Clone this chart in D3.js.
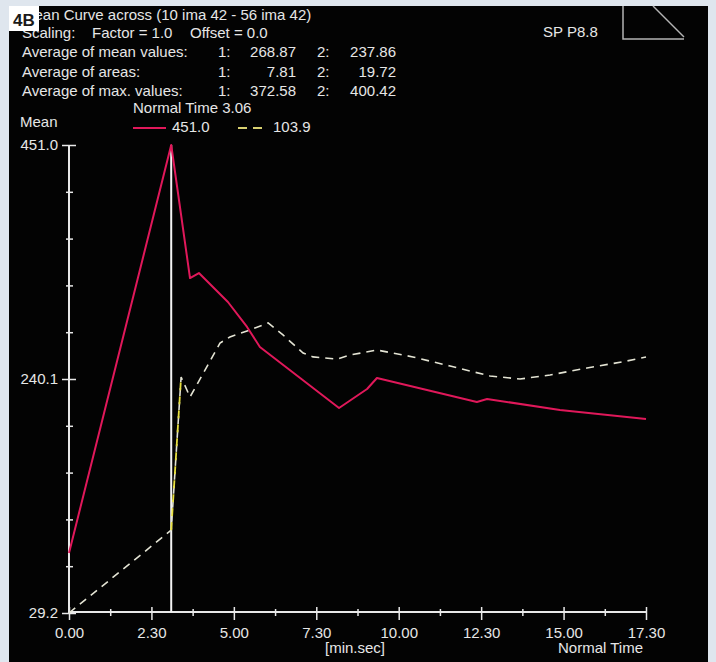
<!DOCTYPE html>
<html><head><meta charset="utf-8">
<script src="https://cdn.jsdelivr.net/npm/d3@7"></script>
<style>
html,body{margin:0;padding:0;background:#dfe6ee;}
svg{display:block;}
text{font-family:"Liberation Sans",Arial,sans-serif;white-space:pre;}
</style></head>
<body>
<script>
// ---- data ----
const xTickValues = [0, 2.5, 5, 7.5, 10, 12.5, 15, 17.5];
const xTickLabels = ["0.00", "2.30", "5.00", "7.30", "10.00", "12.30", "15.00", "17.30"];
const xMinorTicks = [1.25, 3.75, 6.25, 8.75, 11.25, 13.75, 16.25];
const yMin = 29.2, yMax = 451.0;
const yTickLabels = ["29.2", "240.1", "451.0"];
const normalTime = 3.1;
const normalTimeLabel = "Normal Time 3.06";

const series1Time  = [0, 3.1, 3.67, 3.94, 4.82, 5.40, 5.79, 8.19, 9.04, 9.34, 12.37, 12.68, 14.89, 17.5];
const series1Value = [83.3, 451.0, 331.1, 335.6, 309.5, 287.0, 269.0, 214.0, 231.1, 241.0, 219.4, 222.1, 212.2, 204.0];

const series2Time  = [0, 3.1, 3.40, 3.67, 4.58, 4.88, 5.49, 6.04, 6.49, 7.10, 7.40, 8.13, 8.52, 9.34, 10.43, 11.56, 12.77, 13.68, 14.59, 15.71, 16.92, 17.5];
const series2Value = [29.2, 103.9, 241.9, 223.9, 272.5, 278.0, 284.3, 290.6, 279.8, 263.5, 260.0, 258.1, 261.7, 266.2, 260.0, 251.8, 242.8, 240.1, 243.7, 250.0, 256.3, 259.9];

const titleText = "Mean Curve across (10 ima 42 - 56 ima 42)";
const scalingParts = ["Scaling:", "Factor = 1.0", "Offset = 0.0"];
const statLabels = ["Average of mean values:", "Average of areas:", "Average of max. values:"];
const stat1 = ["268.87", "7.81", "372.58"];
const stat2 = ["237.86", "19.72", "400.42"];
const legendValues = ["451.0", "103.9"];

// ---- drawing ----
const W = 716, H = 662, FS = 15;
const svg = d3.select("body").append("svg").attr("width", W).attr("height", H);
svg.append("rect").attr("x", 0).attr("y", 0).attr("width", W).attr("height", H).attr("fill", "#dfe6ee");
svg.append("rect").attr("x", 9).attr("y", 6).attr("width", 699).attr("height", H - 6).attr("fill", "#030303");

const txt = "#e6e6e6";
const x = d3.scaleLinear().domain([0, 17.5]).range([69, 646]);
const y = d3.scaleLinear().domain([yMin, yMax]).range([613, 145]);

function label(px, py, t, anchor) {
  return svg.append("text").attr("x", px).attr("y", py).attr("font-size", FS).attr("fill", txt)
    .attr("text-anchor", anchor || "start").text(t);
}

// header
label(22, 20, titleText);
label(22, 38, scalingParts[0]);
label(92, 38, scalingParts[1]);
label(190, 38, scalingParts[2]);
statLabels.forEach((t, i) => {
  const by = 57 + i * 19.5;
  label(22, by, t);
  label(218, by, "1:");
  label(296, by, stat1[i], "end");
  label(317, by, "2:");
  label(396, by, stat2[i], "end");
});
label(133, 113, normalTimeLabel);
label(20, 127, "Mean");
// legend
svg.append("line").attr("x1", 133).attr("x2", 166).attr("y1", 128).attr("y2", 128).attr("stroke", "#e0185a").attr("stroke-width", 2);
label(172, 132, legendValues[0]);
svg.append("line").attr("x1", 238).attr("x2", 268).attr("y1", 128).attr("y2", 128).attr("stroke", "#d8d070").attr("stroke-width", 2).attr("stroke-dasharray", "9,6");
label(273, 132, legendValues[1]);

// 4B box
svg.append("rect").attr("x", 9).attr("y", 6).attr("width", 30).attr("height", 25).attr("fill", "#ffffff");
svg.append("text").attr("x", 13).attr("y", 26).attr("font-size", 17).attr("font-weight", "bold").attr("fill", "#1a1a1a").text("4B");

// top-right
label(543, 37, "SP P8.8");
svg.append("path").attr("d", "M623,6 L623,39 L684,39").attr("fill", "none").attr("stroke", "#b4b4b4").attr("stroke-width", 1.5);
svg.append("line").attr("x1", 653).attr("y1", 6).attr("x2", 684).attr("y2", 37).attr("stroke", "#b4b4b4").attr("stroke-width", 1.5);

// axes
const axCol = "#e8e8e8";
const gx = svg.append("g").attr("transform", "translate(0,612)")
  .call(d3.axisBottom(x).tickValues(xTickValues).tickFormat((d, i) => xTickLabels[i]).tickSize(8).tickPadding(7));
gx.selectAll(".tick line").attr("y1", -5).attr("stroke", axCol).attr("stroke-width", 1.5);
gx.select(".domain").attr("d", `M${x(0)},0H${x(17.5)}`).attr("stroke", axCol).attr("stroke-width", 2);
gx.selectAll(".tick text").attr("fill", txt).attr("font-size", FS).attr("font-family", "Liberation Sans, Arial, sans-serif");
const gxm = svg.append("g").attr("transform", "translate(0,612)")
  .call(d3.axisBottom(x).tickValues(xMinorTicks).tickFormat("").tickSize(4));
gxm.select(".domain").remove();
gxm.selectAll(".tick line").attr("y1", -3).attr("stroke", axCol).attr("stroke-width", 1.5);

const yTicks = d3.range(11).map(i => yMin + (yMax - yMin) * i / 10);
const gy = svg.append("g").attr("transform", "translate(69,0)")
  .call(d3.axisLeft(y).tickValues(yTicks).tickFormat((d, i) => i % 5 === 0 ? yTickLabels[i / 5] : "").tickSize(3).tickPadding(8));
gy.select(".domain").attr("d", `M0,${y(yMax)}V${y(yMin)}`).attr("stroke", axCol).attr("stroke-width", 2);
gy.selectAll(".tick line").attr("x2", (d, i) => i % 5 === 0 ? -7 : -3).attr("x1", (d, i) => i % 5 === 0 ? 7 : 4).attr("stroke", axCol).attr("stroke-width", 1.5);
gy.selectAll(".tick text").attr("fill", txt).attr("font-size", FS).attr("font-family", "Liberation Sans, Arial, sans-serif").attr("x", -11);

label(325, 653, "[min.sec]");
label(643, 653, "Normal Time", "end");

// normal time marker
svg.append("line").attr("x1", x(normalTime)).attr("x2", x(normalTime)).attr("y1", y(yMax)).attr("y2", 612).attr("stroke", "#f4f4f4").attr("stroke-width", 2);

// curves
const line = d3.line().x(d => x(d[0])).y(d => y(d[1]));
const s2 = series2Time.map((t, i) => [t, series2Value[i]]);
svg.append("path").datum(s2).attr("d", line).attr("fill", "none").attr("stroke", "#e4e4d4").attr("stroke-width", 1.6).attr("stroke-dasharray", "8,6");
svg.append("path").datum(s2.slice(1, 3)).attr("d", line).attr("fill", "none").attr("stroke", "#e8e040").attr("stroke-width", 1.8).attr("stroke-dasharray", "8,6");
const s1 = series1Time.map((t, i) => [t, series1Value[i]]);
svg.append("path").datum(s1).attr("d", line).attr("fill", "none").attr("stroke", "#e0185a").attr("stroke-width", 2).attr("stroke-linejoin", "round");
</script>
</body></html>
